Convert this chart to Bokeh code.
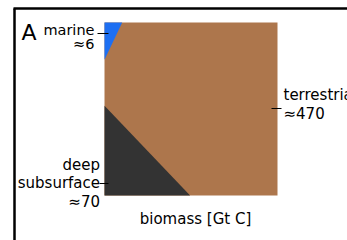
import numpy as np
from bokeh.plotting import figure
from bokeh.models import Range1d
from bokeh.core.properties import value
from bokeh.embed import file_html
from bokeh.resources import INLINE

# ---- data ----
categories = ["marine", "deep subsurface", "terrestrial"]
biomass = [6, 70, 470]            # Gt C
label_texts = ["marine\n≈6", "deep\nsubsurface\n≈70", "terrestrial\n≈470"]
colors = ["#1d6ff2", "#333333", "#ad764c"]

total = sum(biomass)
frac = [b / total for b in biomass]

# ---- geometry (unit square, areas proportional to biomass) ----
W, H = 347, 240
L, T, S = 104, 22, 173   # square left/top (figure px) and size

def sx(px):  # picture px -> data x
    return (px - L) / S

def sy(py):  # picture px -> data y
    return (T + S - py) / S

p = figure(width=W, height=H, output_backend="svg", toolbar_location=None,
           x_range=Range1d(-L / S, (W - L) / S),
           y_range=Range1d(-(H - T - S) / S, (T + S) / S),
           x_axis_type=None, y_axis_type=None, min_border=0)
p.grid.visible = False
p.outline_line_color = None
p.background_fill_color = "white"

# terrestrial: whole square
p.quad(left=[0], right=[1], bottom=[0], top=[1], fill_color=colors[2], line_color=None)

# marine: triangle in top-left corner
r_m = 2.1
a = np.sqrt(2 * frac[0] / r_m)
p.patch([0, a, 0], [1, 1, 1 - r_m * a], fill_color=colors[0], line_color=None)

# deep subsurface: triangle in bottom-left corner
r_d = 0.955
b = np.sqrt(2 * frac[1] / r_d)
p.patch([0, r_d * b, 0], [0, 0, b], fill_color=colors[1], line_color=None)

# ticks
p.segment(x0=[sx(97), sx(99), sx(271)], y0=[sy(33), sy(183), sy(108)],
          x1=[sx(108), sx(108), sx(281)], y1=[sy(33), sy(183), sy(108)],
          line_color="black", line_width=1)

font = value("DejaVu Sans")
p.text(x=[sx(94)], y=[sy(36.5)], text=[label_texts[0]], text_font=font,
       text_font_size="14.5px", text_align="right", text_baseline="middle",
       text_line_height=0.84, text_color="black")
p.text(x=[sx(99.5)], y=[sy(183)], text=[label_texts[1]], text_font=font,
       text_font_size="15px", text_align="right", text_baseline="middle",
       text_line_height=1.03, text_color="black")
p.text(x=[sx(283)], y=[sy(104)], text=[label_texts[2]], text_font=font,
       text_font_size="15px", text_align="left", text_baseline="middle",
       text_line_height=1.03, text_color="black")

p.text(x=[sx(195)], y=[sy(218)], text=["biomass [Gt C]"], text_font=font,
       text_font_size="15px", text_align="center", text_baseline="middle",
       text_color="black")
p.text(x=[sx(21)], y=[sy(32)], text=["A"], text_font=font,
       text_font_size="22px", text_align="left", text_baseline="middle",
       text_color="black")

# panel frame
p.segment(x0=[sx(13), sx(14)], y0=[sy(8), sy(8)], x1=[sx(347), sx(14)], y1=[sy(8), sy(240)],
          line_color="black", line_width=2.5)

open("out.html", "w").write(file_html(p, INLINE))
